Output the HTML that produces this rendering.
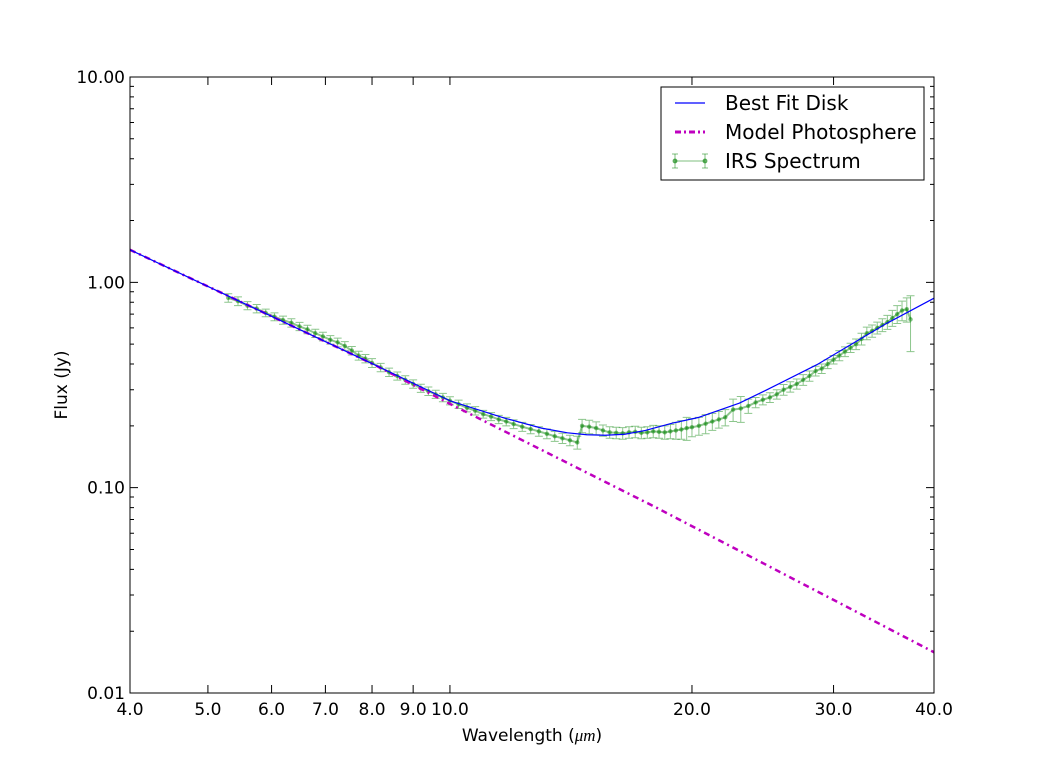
<!DOCTYPE html>
<html><head><meta charset="utf-8"><style>
body{margin:0;background:#fff;}
svg text{font-family:"DejaVu Sans","Liberation Sans",sans-serif;}
</style></head><body>
<svg id="chart" width="1037" height="770" xmlns="http://www.w3.org/2000/svg">
<rect x="0" y="0" width="1037" height="770" fill="#fff"/>
<g id="marks"></g>
<g id="axes"></g>
<rect x="130" y="77" width="804" height="616" fill="none" stroke="#000" stroke-width="1"/>
<text x="532" y="741" font-size="17" text-anchor="middle">Wavelength (<tspan font-family="Liberation Serif" font-style="italic">μm</tspan>)</text>
<text x="0" y="0" font-size="17" text-anchor="middle" transform="translate(67,385) rotate(-90)">Flux (Jy)</text>
<g>
<rect x="661" y="87" width="263" height="93" fill="#fff" stroke="#000" stroke-width="1"/>
<g><line x1="675" y1="103" x2="705" y2="103" stroke="#0000ff" stroke-width="1.2"/><text x="725" y="110" font-size="20">Best Fit Disk</text></g>
<g><line x1="675" y1="132" x2="705" y2="132" stroke="#bf00bf" stroke-width="3" stroke-dasharray="6,3,2,3"/><text x="725" y="139" font-size="20">Model Photosphere</text></g>
<g stroke="#008000" stroke-opacity="0.5"><line x1="675" y1="161" x2="705" y2="161"/><line x1="675" y1="154" x2="675" y2="168"/><line x1="705" y1="154" x2="705" y2="168"/><line x1="672" y1="154" x2="678" y2="154"/><line x1="672" y1="168" x2="678" y2="168"/><line x1="702" y1="154" x2="708" y2="154"/><line x1="702" y1="168" x2="708" y2="168"/><circle cx="675" cy="161" r="2" fill="#008000" fill-opacity="0.5"/><circle cx="705" cy="161" r="2" fill="#008000" fill-opacity="0.5"/><text x="725" y="168" font-size="20" fill="#000" stroke="none">IRS Spectrum</text></g>
</g>
</svg>
<script>
const diskWave=[4,5,6,8,10,11.7,13,14,14.8,15.6,16.5,17.5,18.9,20.4,22.9,24.8,28.6,34.9,40];
const diskFlux=[1.44,0.955,0.683,0.402,0.265,0.218,0.195,0.185,0.181,0.18,0.182,0.19,0.206,0.22,0.258,0.30,0.397,0.63,0.837];
const photWave=[4,6,8,10,14,18,25,30,40];
const photFlux=[1.44,0.683,0.402,0.256,0.132,0.0805,0.0412,0.0284,0.0158];
const irsWave=[5.3,5.45,5.6,5.75,5.9,6.05,6.2,6.35,6.5,6.65,6.8,6.95,7.1,7.25,7.4,7.55,7.7,7.85,
8.0,8.2,8.4,8.6,8.8,9.0,9.2,9.4,9.6,9.8,10.0,
10.25,10.5,10.75,11.0,11.25,11.5,11.75,12.0,
12.3,12.6,12.9,13.2,13.5,13.8,14.1,14.4,
14.6,14.9,15.2,15.5,15.8,16.1,16.4,16.7,17.0,17.3,17.6,17.9,18.2,18.5,18.8,19.1,19.4,19.7,20.0,
20.4,20.8,21.2,21.6,22.0,
22.5,23.0,23.5,24.0,24.5,25.0,25.5,26.0,26.5,27.0,27.5,28.0,28.5,29.0,29.5,30.0,30.5,31.0,31.5,32.0,32.5,33.0,33.5,34.0,34.5,35.0,35.5,36.0,36.5,37.0,37.4];
const irsFlux=[0.84,0.81,0.77,0.745,0.71,0.68,0.655,0.635,0.61,0.59,0.565,0.545,0.525,0.51,0.49,0.465,0.44,0.425,
0.405,0.385,0.365,0.35,0.335,0.32,0.305,0.295,0.285,0.275,0.265,
0.255,0.245,0.237,0.228,0.222,0.215,0.21,0.204,
0.198,0.193,0.188,0.183,0.178,0.174,0.17,0.166,
0.2,0.198,0.195,0.19,0.186,0.185,0.184,0.186,0.187,0.185,0.186,0.188,0.187,0.186,0.188,0.19,0.192,0.195,0.197,
0.2,0.205,0.21,0.215,0.22,
0.24,0.243,0.25,0.26,0.268,0.275,0.285,0.3,0.31,0.32,0.335,0.35,0.37,0.38,0.4,0.42,0.44,0.46,0.48,0.5,0.53,0.565,0.58,0.6,0.62,0.64,0.67,0.7,0.73,0.74,0.66];
const irsErr=[0.04,0.04,0.035,0.035,0.03,0.03,0.03,0.03,0.028,0.028,0.026,0.026,0.025,0.025,0.024,0.022,0.022,0.02,
0.02,0.018,0.017,0.016,0.016,0.015,0.014,0.014,0.013,0.013,0.012,
0.012,0.011,0.011,0.01,0.01,0.01,0.01,0.01,
0.01,0.01,0.01,0.01,0.01,0.01,0.01,0.012,
0.015,0.015,0.014,0.012,0.012,0.012,0.012,0.012,0.012,0.012,0.012,0.013,0.013,0.014,0.015,0.018,0.02,0.025,0.02,
0.02,0.022,0.02,0.02,0.02,
0.03,0.035,0.02,0.015,0.015,0.015,0.015,0.018,0.018,0.018,0.02,0.02,0.02,0.02,0.02,0.02,0.025,0.025,0.025,0.03,0.035,0.04,0.04,0.04,0.045,0.05,0.06,0.07,0.08,0.1,0.2];
const xTicks=[4,5,6,7,8,9,10,20,30,40];
const xTickLabels=["4.0","5.0","6.0","7.0","8.0","9.0","10.0","20.0","30.0","40.0"];
const yTicks=[0.01,0.1,1,10];
const yTickLabels=["0.01","0.10","1.00","10.00"];

const X0=130,X1=934,Y0=693,Y1=77;
const xs=v=>X0+(Math.log10(v)-Math.log10(4))/(Math.log10(40)-Math.log10(4))*(X1-X0);
const ys=v=>Y0-(Math.log10(v)+2)/3*(Y0-Y1);
const NS="http://www.w3.org/2000/svg";
const marks=document.getElementById('marks'), axes=document.getElementById('axes');
function mk(tag,attrs,parent){const e=document.createElementNS(NS,tag);for(const k in attrs)e.setAttribute(k,attrs[k]);parent.appendChild(e);return e;}

const irsG=mk('g',{stroke:'#008000','stroke-opacity':'0.45','stroke-width':'1'},marks);


let pts=[];
irsWave.forEach((w,i)=>{
  const x=xs(w),y=ys(irsFlux[i]),yt=ys(irsFlux[i]+irsErr[i]),yb=ys(irsFlux[i]-irsErr[i]);
  const eb=mk('path',{d:`M${x},${yt}V${yb}M${x-4},${yt}H${x+4}M${x-4},${yb}H${x+4}`,fill:'none'},irsG);
  
  
  pts.push(x+','+y);
});
mk('polyline',{points:pts.join(' '),fill:'none','stroke-width':'2'},irsG);
irsWave.forEach((w,i)=>{
  const c=mk('circle',{cx:xs(w),cy:ys(irsFlux[i]),r:2.2,fill:'#008000','fill-opacity':'0.5',stroke:'none'},irsG);
  
  
});
const ph=mk('polyline',{points:photWave.map((w,i)=>xs(w)+','+ys(photFlux[i])).join(' '),fill:'none',stroke:'#bf00bf','stroke-width':'2.5','stroke-dasharray':'6,4,2,4'},marks);


const dk=mk('polyline',{points:diskWave.map((w,i)=>xs(w)+','+ys(diskFlux[i])).join(' '),fill:'none',stroke:'#0000ff','stroke-width':'1.2','stroke-linejoin':'round'},marks);



xTicks.forEach((t,i)=>{
  const x=xs(t);
  mk('path',{d:`M${x},${Y0}v-8M${x},${Y1}v8`,stroke:'#000'},axes);
  const tx=mk('text',{x:x,y:Y0+22,'font-size':'17','text-anchor':'middle'},axes);
  tx.textContent=xTickLabels[i];
  
  
});
yTicks.forEach((t,i)=>{
  const y=ys(t);
  mk('path',{d:`M${X0},${y}h8M${X1},${y}h-8`,stroke:'#000'},axes);
  const tx=mk('text',{x:X0-5,y:y+6,'font-size':'17','text-anchor':'end'},axes);
  tx.textContent=yTickLabels[i];
  
  
  if(i<yTicks.length-1){for(let m=2;m<=9;m++){const ym=ys(t*m);mk('path',{d:`M${X0},${ym}h4M${X1},${ym}h-4`,stroke:'#000'},axes);}}
});
</script>
</body></html>
